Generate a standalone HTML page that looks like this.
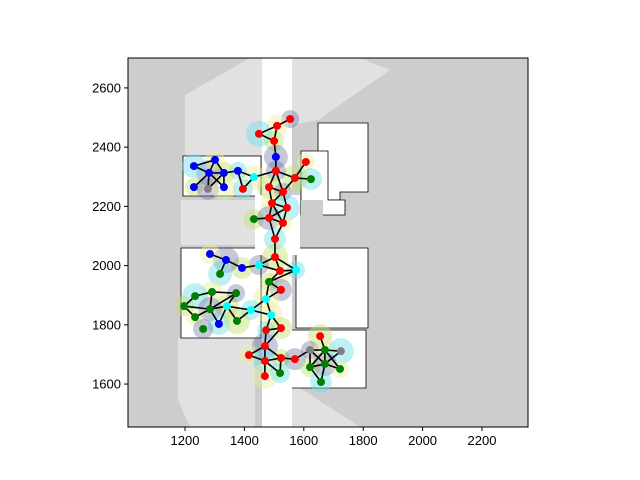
<!DOCTYPE html>
<html><head><meta charset="utf-8"><style>
body{margin:0;background:#fff}
svg{display:block;font-family:"Liberation Sans",sans-serif}
</style></head><body>
<svg id="chart" width="640" height="480" viewBox="0 0 640 480">
<defs><clipPath id="pc"><rect x="128" y="58" width="400" height="369"/></clipPath></defs>
<g clip-path="url(#pc)">
<rect x="128" y="58" width="400" height="369" fill="#cdcdcd"/>
<g fill="#fff" opacity="0.4">
<polygon points="262,58 250,58 185,95 185,155 262,155"/>
<polygon points="292,58 360,58 390,70 318,120 292,125"/>
<polygon points="178,338 255,335 255,427 190,427 178,400"/>
<polygon points="291,388 300,388 360,427 291,427"/>
<polygon points="181,200 262,200 262,245 181,245"/>
</g>
<g fill="#fff" stroke="#000" stroke-width="0.8">
<polygon points="183,156 261,156 261,196 183,196"/>
<polygon points="318,123 368,123 368,192 340,192 340,200 318,200"/>
<polygon points="301,151 328,151 328,200 345,200 345,215 301,215"/>
<polygon points="296,248 368,248 368,328 296,328"/>
<polygon points="181,248 261,248 261,338 181,338"/>
<polygon points="291,330 366,330 366,388 291,388"/>
</g>
<rect x="262" y="58" width="30" height="369" fill="#fff"/>
<rect x="255" y="195" width="45" height="60" fill="#fff"/>
<rect x="301" y="200" width="22" height="20" fill="#cdcdcd"/>
</g>
<g id="halos"></g>
<g id="edges"></g>
<g id="nodes"></g>
<rect x="128" y="58" width="400" height="369" fill="none" stroke="#000" stroke-width="1"/>
<g id="axes" font-size="13" fill="#000"></g>
</svg>
<script>
const xTicks=[1200,1400,1600,1800,2000,2200];
const yTicks=[1600,1800,2000,2200,2400,2600];
const nodeX=[1554,1510,1449,1500,1506,1607,1624,1570,1506,1432,1378,1331,1281,1301,1230,1230,1277,1331,1395,1483,1530,1493,1543,1432,1483,1530,1503,1503,1449,1520,1574,1392,1338,1284,1318,1483,1523,1473,1422,1341,1372,1291,1234,1197,1284,1234,1314,1375,1261,1490,1473,1523,1469,1415,1469,1523,1570,1469,1520,1655,1621,1671,1725,1621,1671,1722,1658];
const nodeY=[2495,2472,2445,2421,2367,2350,2292,2296,2320,2299,2320,2313,2313,2357,2336,2265,2259,2265,2259,2265,2249,2211,2195,2157,2161,2144,2090,2029,2002,1982,1985,1992,2019,2039,1972,1945,1918,1887,1850,1863,1907,1911,1897,1863,1853,1826,1803,1813,1786,1833,1782,1789,1728,1698,1678,1688,1684,1627,1637,1762,1715,1715,1711,1657,1668,1651,1607];
const nodeType=["r","r","r","r","b","r","g","r","r","c","b","b","b","b","b","b","k","b","r","r","r","r","r","g","r","r","r","r","c","r","c","b","b","b","g","g","r","c","c","c","g","g","g","g","g","g","b","g","g","c","r","r","r","r","r","r","r","r","g","r","k","g","k","g","g","g","g"];
const edgeFrom=[1,2,2,3,4,5,9,8,8,9,10,11,12,13,14,13,12,13,13,13,12,12,11,10,9,9,8,20,20,21,21,22,22,22,23,23,25,24,25,26,27,28,28,28,30,29,32,33,33,29,30,31,36,36,37,38,39,40,41,42,42,43,44,45,44,41,40,40,39,45,45,38,39,50,50,51,51,52,53,53,53,54,55,55,55,56,56,57,60,61,61,61,62,62,62,62,63,64,65,64,65];
const edgeTo=[2,3,4,4,5,9,8,6,7,10,11,12,13,14,15,15,14,16,17,18,17,18,19,19,20,21,21,21,22,22,23,23,25,26,25,26,26,25,27,27,28,29,30,31,31,32,33,34,35,30,36,36,37,38,38,39,40,41,42,43,45,44,45,46,46,45,47,48,48,40,47,50,50,51,52,52,53,53,54,55,56,55,56,58,59,59,57,61,62,62,64,65,63,64,65,66,65,65,66,67,67];
const haloCol=["rgba(90,100,150,0.35)","rgba(190,225,110,0.45)","rgba(110,225,235,0.45)","rgba(235,240,160,0.45)"];
const X0=1008,X1=2355,Y0=1455,Y1=2701,L=128,R=528,T=58,B=427;
const sx=v=>L+(v-X0)/(X1-X0)*(R-L);
const sy=v=>B-(v-Y0)/(Y1-Y0)*(B-T);
const col={r:"#ff0000",b:"#0000ff",g:"#008000",c:"#00ffff",k:"#808080"};
const NS="http://www.w3.org/2000/svg";
const eg=document.getElementById('edges'),hg=document.getElementById('halos'),ng=document.getElementById('nodes'),ag=document.getElementById('axes');
for(let i=0;i<edgeFrom.length;i++){const a=edgeFrom[i]-1,b=edgeTo[i]-1;const l=document.createElementNS(NS,'line');
l.setAttribute('x1',sx(nodeX[a]));l.setAttribute('y1',sy(nodeY[a]));l.setAttribute('x2',sx(nodeX[b]));l.setAttribute('y2',sy(nodeY[b]));
l.setAttribute('stroke','#000');l.setAttribute('stroke-width','1.6');


eg.appendChild(l);}
for(let i=0;i<nodeX.length;i++){const h=document.createElementNS(NS,'circle');
h.setAttribute('cx',sx(nodeX[i]));h.setAttribute('cy',sy(nodeY[i]));h.setAttribute('r',9+(i*7%5));
h.setAttribute('fill',haloCol[(i*3)%4]);


hg.appendChild(h);
const c=document.createElementNS(NS,'circle');
c.setAttribute('cx',sx(nodeX[i]));c.setAttribute('cy',sy(nodeY[i]));c.setAttribute('r',4);
c.setAttribute('fill',col[nodeType[i]]);


ng.appendChild(c);}
xTicks.forEach(v=>{const x=sx(v);const l=document.createElementNS(NS,'line');
l.setAttribute('x1',x);l.setAttribute('x2',x);l.setAttribute('y1',B);l.setAttribute('y2',B+4);l.setAttribute('stroke','#000');


ag.appendChild(l);const t=document.createElementNS(NS,'text');
t.setAttribute('x',x);t.setAttribute('y',B+18);t.setAttribute('text-anchor','middle');t.textContent=v;


ag.appendChild(t);});
yTicks.forEach(v=>{const y=sy(v);const l=document.createElementNS(NS,'line');
l.setAttribute('x1',L-4);l.setAttribute('x2',L);l.setAttribute('y1',y);l.setAttribute('y2',y);l.setAttribute('stroke','#000');


ag.appendChild(l);const t=document.createElementNS(NS,'text');
t.setAttribute('x',L-7);t.setAttribute('y',y+4.5);t.setAttribute('text-anchor','end');t.textContent=v;


ag.appendChild(t);});
</script>
</body></html>
